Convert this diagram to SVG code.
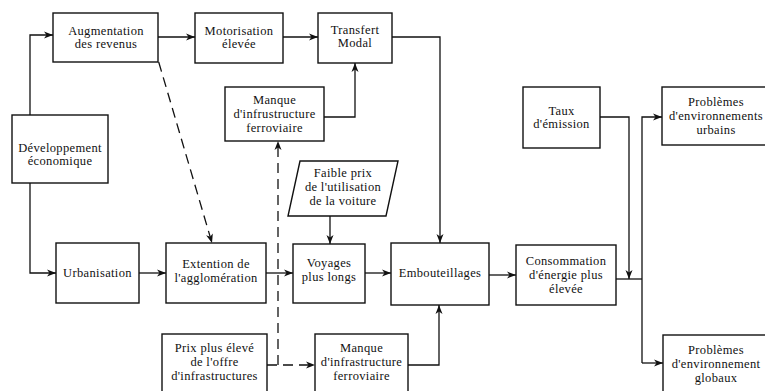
<svg xmlns="http://www.w3.org/2000/svg" width="765" height="391" viewBox="0 0 765 391">
<style>
.box{fill:#fff;stroke:#111;stroke-width:1.4}
.t{font-family:"Liberation Serif","Times New Roman",serif;font-size:12.5px;letter-spacing:0.35px;fill:#111;text-anchor:middle}
.c{fill:none;stroke:#111;stroke-width:1.3}
.d{stroke-dasharray:10,6}
</style>
<defs>
<marker id="ah" markerWidth="10" markerHeight="8" refX="9" refY="4" orient="auto" markerUnits="userSpaceOnUse">
<path d="M0,0.5 L9,4 L0,7.5 L2.5,4 z" fill="#111"/>
</marker>
</defs>
<rect width="765" height="391" fill="#fff"/>
<g id="connectors">
<path class="c" d="M30,115 V35 H53" marker-end="url(#ah)"/>
<path class="c" d="M30,183 V273 H56" marker-end="url(#ah)"/>
<path class="c" d="M158,37 H195" marker-end="url(#ah)"/>
<path class="c" d="M283,37 H318" marker-end="url(#ah)"/>
<path class="c" d="M324,117 H355 V63" marker-end="url(#ah)"/>
<path class="c" d="M392,37 H440 V243" marker-end="url(#ah)"/>
<path class="c d" d="M158.7,62 L212,243" marker-end="url(#ah)"/>
<path class="c" d="M139,273 H166" marker-end="url(#ah)"/>
<path class="c" d="M266,273 H293" marker-end="url(#ah)"/>
<path class="c" d="M330,216 V244" marker-end="url(#ah)"/>
<path class="c" d="M365,273 H391" marker-end="url(#ah)"/>
<path class="c" d="M489,275 H516" marker-end="url(#ah)"/>
<path class="c d" d="M267,365 H315" marker-end="url(#ah)"/>
<path class="c d" d="M278,365 V141" marker-end="url(#ah)"/>
<path class="c" d="M408,365 H439 V305" marker-end="url(#ah)"/>
<path class="c" d="M616,279 H642"/>
<path class="c" d="M642,363 V117 H662" marker-end="url(#ah)"/>
<path class="c" d="M642,363 H663" marker-end="url(#ah)"/>
<path class="c" d="M600,117 H629 V279" marker-end="url(#ah)"/>
</g>
<g id="augmentation"><rect class="box" x="53" y="13" width="105" height="49"/><text class="t" x="106" y="35">Augmentation</text><text class="t" x="106" y="48">des revenus</text></g>
<g id="motorisation"><rect class="box" x="195" y="13" width="88" height="50"/><text class="t" x="239" y="35">Motorisation</text><text class="t" x="239" y="48">élevée</text></g>
<g id="transfert"><rect class="box" x="318" y="13" width="74" height="50"/><text class="t" x="355" y="34">Transfert</text><text class="t" x="355" y="47">Modal</text></g>
<g id="manque-haut"><rect class="box" x="225" y="87" width="99" height="54"/><text class="t" x="274.5" y="104">Manque</text><text class="t" x="274.5" y="118">d'infrustructure</text><text class="t" x="274.5" y="132">ferroviaire</text></g>
<g id="developpement"><rect class="box" x="12" y="115" width="96" height="68"/><text class="t" x="60" y="152">Développement</text><text class="t" x="60" y="165">économique</text></g>
<g id="taux"><rect class="box" x="523" y="87" width="77" height="61"/><text class="t" x="561.5" y="115">Taux</text><text class="t" x="561.5" y="128">d'émission</text></g>
<g id="pb-urbains"><rect class="box" x="662" y="87" width="112" height="58"/><text class="t" x="716" y="106">Problèmes</text><text class="t" x="716" y="120">d'environnements</text><text class="t" x="716" y="134">urbains</text></g>
<g id="faible-prix"><path class="box" d="M300,161 H398 L386,216 H288 Z"/><text class="t" x="343" y="177">Faible prix</text><text class="t" x="343" y="191">de l'utilisation</text><text class="t" x="343" y="205">de la voiture</text></g>
<g id="urbanisation"><rect class="box" x="56" y="243" width="83" height="60"/><text class="t" x="97.5" y="277">Urbanisation</text></g>
<g id="extention"><rect class="box" x="166" y="243" width="100" height="60"/><text class="t" x="216" y="268">Extention de</text><text class="t" x="216" y="282">l'agglomération</text></g>
<g id="voyages"><rect class="box" x="293" y="244" width="72" height="59"/><text class="t" x="329" y="267">Voyages</text><text class="t" x="329" y="281">plus longs</text></g>
<g id="embouteillages"><rect class="box" x="391" y="243" width="98" height="62"/><text class="t" x="440" y="277">Embouteillages</text></g>
<g id="consommation"><rect class="box" x="516" y="245" width="100" height="60"/><text class="t" x="566" y="265">Consommation</text><text class="t" x="566" y="279">d'énergie plus</text><text class="t" x="566" y="293">élevée</text></g>
<g id="prix"><rect class="box" x="162" y="334" width="105" height="59"/><text class="t" x="214.5" y="352">Prix plus élevé</text><text class="t" x="214.5" y="366">de l'offre</text><text class="t" x="214.5" y="380">d'infrastructures</text></g>
<g id="manque-bas"><rect class="box" x="315" y="334" width="93" height="59"/><text class="t" x="361.5" y="352">Manque</text><text class="t" x="361.5" y="366">d'infrastructure</text><text class="t" x="361.5" y="380">ferroviaire</text></g>
<g id="pb-globaux"><rect class="box" x="663" y="335" width="112" height="58"/><text class="t" x="716" y="354">Problèmes</text><text class="t" x="716" y="368">d'environnement</text><text class="t" x="716" y="382">globaux</text></g>
</svg>
